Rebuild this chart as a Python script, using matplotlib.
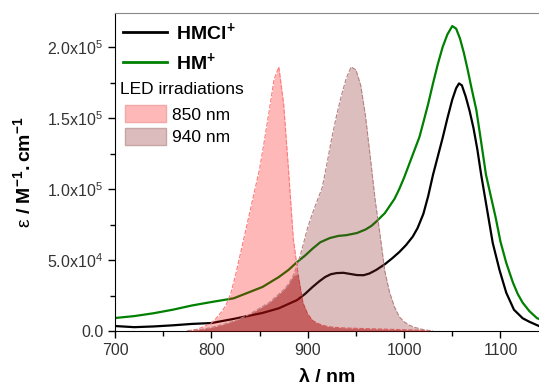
import numpy as np
import matplotlib
matplotlib.use("Agg")
import matplotlib.pyplot as plt
from matplotlib.patches import Patch
from matplotlib.lines import Line2D
from matplotlib.ticker import MultipleLocator, FuncFormatter

plt.rcParams['font.family'] = ['Liberation Sans', 'DejaVu Sans']
plt.rcParams['mathtext.fontset'] = 'custom'
plt.rcParams['mathtext.rm'] = 'Liberation Sans'
plt.rcParams['mathtext.bf'] = 'Liberation Sans:bold'
plt.rcParams['mathtext.it'] = 'Liberation Sans:italic'

# absorption spectra (wavelength in nm, epsilon in M-1 cm-1)
hmcl_wl = [700, 720, 740, 760, 780, 800, 823, 853, 870, 889, 897, 905, 912, 918,
           924, 930, 937, 944, 951, 958, 964, 971, 980, 988, 995, 1002, 1009,
           1014, 1020, 1025, 1030, 1035, 1040, 1045, 1050, 1054, 1057, 1060, 1064,
           1068, 1072, 1076, 1080, 1085, 1092, 1099, 1106, 1114, 1123, 1130, 1140]
hmcl_eps = [3500, 2700, 3200, 4000, 5000, 5600, 8500, 12700, 16000, 21800, 26000,
            31000, 35000, 38000, 40000, 40800, 41000, 40200, 39400, 39300, 40500,
            43000, 47000, 51400, 55600, 60500, 66500, 72500, 82500, 95000, 110000,
            123000, 136000, 150000, 163000, 171000, 174400, 173000, 165000, 155000,
            143000, 128000, 110000, 90000, 62000, 43000, 27000, 15000, 9000, 6500,
            3500]

hm_wl = [700, 720, 740, 760, 780, 800, 823, 853, 870, 880, 889, 897, 905, 913,
         923, 932, 940, 951, 960, 966, 971, 980, 985, 990, 995, 1000, 1005, 1010,
         1016, 1020, 1025, 1030, 1035, 1040, 1045, 1050, 1054, 1058, 1062, 1066,
         1070, 1075, 1080, 1085, 1090, 1095, 1100, 1106, 1113, 1118, 1123, 1130,
         1138, 1140]
hm_eps = [9150, 10500, 12500, 15000, 18000, 20400, 23000, 31000, 38000, 43000,
          48600, 53000, 58000, 62500, 65500, 67000, 67500, 69000, 71500, 74000,
          77000, 83000, 88000, 93000, 100000, 108000, 117000, 126000, 136800,
          147000, 160000, 174400, 188000, 200000, 209000, 214800, 213000, 206000,
          196000, 184000, 171000, 155600, 133000, 110000, 95000, 80000, 63000,
          48000, 34000, 26000, 20000, 14000, 9000, 8500]

# LED emission profiles (scaled), on a common wavelength grid
led_wl = list(range(775, 1035, 5))
led_850 = [0, 500, 1200, 2500, 4000, 5500, 9000, 13000, 18000, 26000, 39000, 54000,
           69000, 84000, 99000, 114000, 134000, 155000, 177000, 186000, 160000,
           114000, 65000, 40000, 20000, 12000, 7500, 5500, 4200, 3300, 2800, 2500,
           2300, 2100, 2000, 1900, 1800, 1700, 1600, 1500, 1400, 1300, 1200, 1100,
           1000, 900, 800, 700, 600, 400, 200, 0]
led_940 = [300, 500, 800, 1200, 1800, 2500, 3300, 4200, 5200, 6300, 7500, 8800,
           10200, 12000, 14000, 16000, 18000, 20000, 23000, 26000, 29000, 33000,
           39000, 48000, 60000, 73000, 83000, 92000, 101000, 118000, 136000,
           152000, 166000, 178000, 186000, 184000, 173000, 151000, 122000, 92000,
           68000, 42000, 27000, 17000, 10000, 6500, 4200, 2800, 1800, 1000, 500, 0]

fig = plt.figure(figsize=(5.39, 3.85), dpi=100)
ax = fig.add_axes([115 / 539, 54 / 385, 424 / 539, 318 / 385])

ax.plot(hmcl_wl, hmcl_eps, color='black', lw=1.6, zorder=2)
ax.plot(hm_wl, hm_eps, color='#008000', lw=1.6, zorder=2)

ax.fill_between(led_wl, led_850, color=(1, 0, 0), alpha=0.28, lw=0, zorder=3)
ax.plot(led_wl, led_850, color='#ff7878', lw=0.8, ls=(0, (4, 1.5)), zorder=3)
ax.fill_between(led_wl, led_940, color=(140 / 255, 40 / 255, 40 / 255), alpha=0.3,
                lw=0, zorder=3)
ax.plot(led_wl, led_940, color='#b88080', lw=0.8, ls=(0, (4, 1.5)), zorder=3)
# darker where both emissions overlap
ax.fill_between(led_wl, np.minimum(led_850, led_940), color=(150 / 255, 0, 0),
                alpha=0.3, lw=0, zorder=3)

ax.set_xlim(700, 1140)
ax.set_ylim(0, 224000)

ax.xaxis.set_major_locator(MultipleLocator(100))
ax.xaxis.set_minor_locator(MultipleLocator(50))
ax.yaxis.set_major_locator(MultipleLocator(50000))
ax.yaxis.set_minor_locator(MultipleLocator(25000))


def sci_fmt(v, pos):
    if v <= 0:
        return '0.0'
    exp = int(np.floor(np.log10(v)))
    return '%.1fx10$^{%d}$' % (v / 10 ** exp, exp)


ax.yaxis.set_major_formatter(FuncFormatter(sci_fmt))
ax.tick_params(which='major', direction='out', length=5, width=1,
               labelsize=11.5, labelcolor='#333333')
ax.tick_params(which='minor', direction='out', length=3.5, width=1)

ax.spines['right'].set_visible(False)
ax.spines['top'].set_color('#888888')

ax.set_xlabel('λ / nm', fontsize=14, fontweight='bold', labelpad=8)
ax.set_ylabel(r'$\mathrm{ε}\ \mathbf{/\ M^{-1}.cm^{-1}}$', fontsize=14)
ax.yaxis.set_label_coords(-0.19, 0.5)

line_handles = [Line2D([], [], color='black', lw=2),
                Line2D([], [], color='#008000', lw=2)]
leg1 = ax.legend(line_handles, [r'$\mathbf{HMCl^{+}}$', r'$\mathbf{HM^{+}}$'],
                 loc='upper left', bbox_to_anchor=(0.019, 0.975),
                 frameon=False, fontsize=14, handlelength=2.25,
                 handletextpad=0.45, labelspacing=0.42,
                 borderpad=0, borderaxespad=0)
ax.add_artist(leg1)

ax.text(0.012, 0.758, 'LED irradiations', transform=ax.transAxes,
        fontsize=12.5, va='center', ha='left')

patch_handles = [Patch(facecolor='#ffb8b8', edgecolor='#f0a8a8'),
                 Patch(facecolor='#dcbcbc', edgecolor='#c8a4a4')]
ax.legend(patch_handles, ['850 nm', '940 nm'],
          fontsize=12.5, loc='upper left', bbox_to_anchor=(0.024, 0.71),
          frameon=False, handlelength=2.35, handleheight=1.15,
          handletextpad=0.35, labelspacing=0.3, borderpad=0, borderaxespad=0)

fig.savefig('out.png', dpi=100)
